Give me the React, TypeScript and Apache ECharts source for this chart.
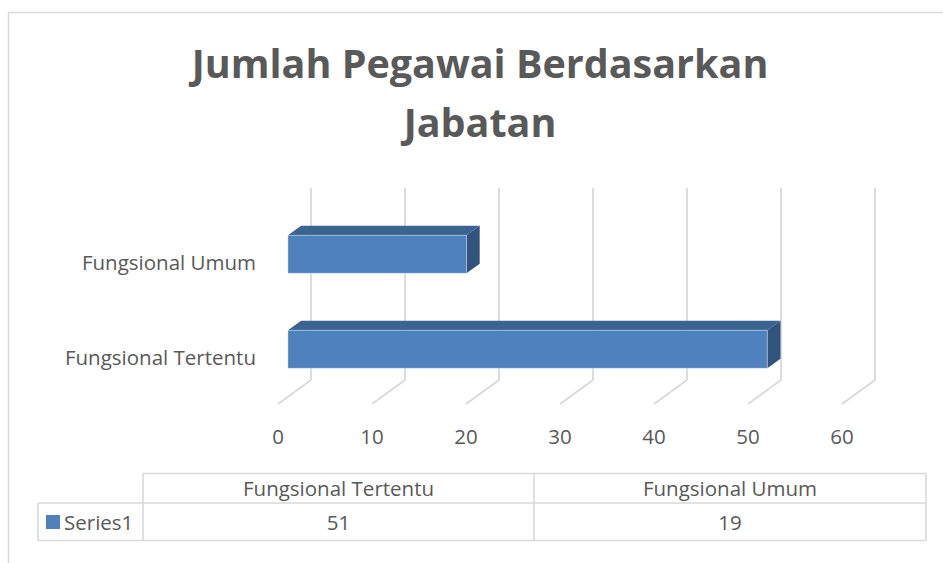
import React, { useEffect, useRef } from "react";
import * as echarts from "echarts";

const titleLines = ["Jumlah Pegawai Berdasarkan", "Jabatan"];
const categories = ["Fungsional Tertentu", "Fungsional Umum"];
const values = [51, 19];
const seriesName = "Series1";
const xTicks = [0, 10, 20, 30, 40, 50, 60];

const FONT = "'Open Sans', sans-serif";
const TEXT = "#595959";
const GRID = "#D9D9D9";
const DEPTH = [33, -24];

export default function App() {
  const ref = useRef<HTMLDivElement>(null);
  useEffect(() => {
    if (!ref.current) return;
    const chart = echarts.init(ref.current, undefined, { renderer: "svg" });

    const tableTop = 473.5;
    const tableMid = 503;
    const tableBot = 540.5;
    const colX = [143, 534, 926];
    const rowLeft = 38;

    const tableEls: any[] = [];
    const ln = (x1: number, y1: number, x2: number, y2: number) => ({
      type: "line",
      shape: { x1, y1, x2, y2 },
      style: { stroke: GRID, lineWidth: 1.6 },
      silent: true,
    });
    tableEls.push(ln(colX[0], tableTop, colX[2], tableTop));
    tableEls.push(ln(rowLeft, tableMid, colX[2], tableMid));
    tableEls.push(ln(rowLeft, tableBot, colX[2], tableBot));
    tableEls.push(ln(rowLeft, tableMid, rowLeft, tableBot));
    colX.forEach((x) => tableEls.push(ln(x, tableTop, x, tableBot)));
    categories.forEach((c, i) => {
      const cx = (colX[i] + colX[i + 1]) / 2;
      tableEls.push({
        type: "text",
        x: cx,
        y: (tableTop + tableMid) / 2,
        style: { text: c, font: `20.5px ${FONT}`, fill: TEXT, align: "center", verticalAlign: "middle" },
      });
      tableEls.push({
        type: "text",
        x: cx,
        y: (tableMid + tableBot) / 2,
        style: { text: String(values[i]), font: `20.5px ${FONT}`, fill: TEXT, align: "center", verticalAlign: "middle" },
      });
    });
    tableEls.push({
      type: "rect",
      shape: { x: 46, y: 515, width: 14, height: 14 },
      style: { fill: "#4F81BD" },
    });
    tableEls.push({
      type: "text",
      x: 64,
      y: (tableMid + tableBot) / 2,
      style: { text: seriesName, font: `20.5px ${FONT}`, fill: TEXT, align: "left", verticalAlign: "middle" },
    });

    const option: any = {
      animation: false,
      grid: { left: 278, top: 214, width: 564, height: 190, containLabel: false },
      xAxis: {
        type: "value",
        min: 0,
        max: 60,
        interval: 10,
        axisLine: { show: false },
        axisTick: { show: false },
        splitLine: { show: false },
        axisLabel: { color: TEXT, fontFamily: FONT, fontSize: 20.5, margin: 21 },
      },
      yAxis: {
        type: "category",
        data: categories,
        axisLine: { show: false },
        axisTick: { show: false },
        axisLabel: { color: TEXT, fontFamily: FONT, fontSize: 20.5, margin: 22, padding: [4, 0, 0, 0] },
      },
      graphic: [
        {
          type: "rect",
          shape: { x: 8.5, y: 12.5, width: 2000, height: 2000 },
          style: { fill: "none", stroke: GRID, lineWidth: 1.5 },
          silent: true,
          z: -10,
        },
        {
          type: "text",
          x: 480,
          y: 63,
          style: { text: titleLines[0], font: `bold 39.5px ${FONT}`, fill: TEXT, align: "center", verticalAlign: "middle" },
        },
        {
          type: "text",
          x: 480,
          y: 122,
          style: { text: titleLines[1], font: `bold 39.5px ${FONT}`, fill: TEXT, align: "center", verticalAlign: "middle" },
        },
        ...tableEls,
      ],
      series: [
        {
          type: "custom",
          name: "walls",
          z: 1,
          silent: true,
          data: xTicks.map((t) => [t]),
          renderItem: (params: any, api: any) => {
            const v = api.value(0);
            const p0 = api.coord([v, 0]);
            const p1 = api.coord([v, categories.length - 1]);
            const band = api.size([0, 1])[1];
            const bottom = p0[1] + band / 2;
            const top = p1[1] - band / 2;
            const x = p0[0];
            const bx = x + DEPTH[0];
            const by = bottom + DEPTH[1];
            const ty = top + DEPTH[1] - 2;
            return {
              type: "group",
              children: [
                { type: "line", shape: { x1: x, y1: bottom, x2: bx, y2: by }, style: { stroke: GRID, lineWidth: 1.8 } },
                { type: "line", shape: { x1: bx, y1: by, x2: bx, y2: ty }, style: { stroke: GRID, lineWidth: 1.8 } },
              ],
            };
          },
        },
        {
          type: "custom",
          name: seriesName,
          z: 2,
          data: values.map((v, i) => [v, i]),
          renderItem: (params: any, api: any) => {
            const v = api.value(0);
            const c = api.value(1);
            const s = api.coord([0, c]);
            const e = api.coord([v, c]);
            const band = api.size([0, 1])[1];
            const h = band * 0.4;
            const f = 0.3;
            const d = 0.4;
            const ox = DEPTH[0] * f;
            const oy = DEPTH[1] * f;
            const dx = DEPTH[0] * d;
            const dy = DEPTH[1] * d;
            const x0 = s[0] + ox;
            const x1 = e[0] + ox;
            const yT = s[1] - h / 2 + oy;
            const yB = yT + h;
            return {
              type: "group",
              children: [
                {
                  type: "polygon",
                  shape: { points: [[x0, yT], [x1, yT], [x1 + dx, yT + dy], [x0 + dx, yT + dy]] },
                  style: { fill: "#3C6491" },
                },
                {
                  type: "polygon",
                  shape: { points: [[x1, yT], [x1 + dx, yT + dy], [x1 + dx, yB + dy], [x1, yB]] },
                  style: { fill: "#32537E" },
                },
                {
                  type: "rect",
                  shape: { x: x0, y: yT, width: x1 - x0, height: h },
                  style: { fill: "#4F81BD", stroke: "rgba(255,255,255,0.35)", lineWidth: 1 },
                },
              ],
            };
          },
        },
      ],
    };
    chart.setOption(option);
    return () => chart.dispose();
  }, []);
  return (
    <div
      ref={ref}
      style={{ position: "absolute", left: 0, top: 0, width: 943, height: 563, background: "#fff" }}
    />
  );
}
